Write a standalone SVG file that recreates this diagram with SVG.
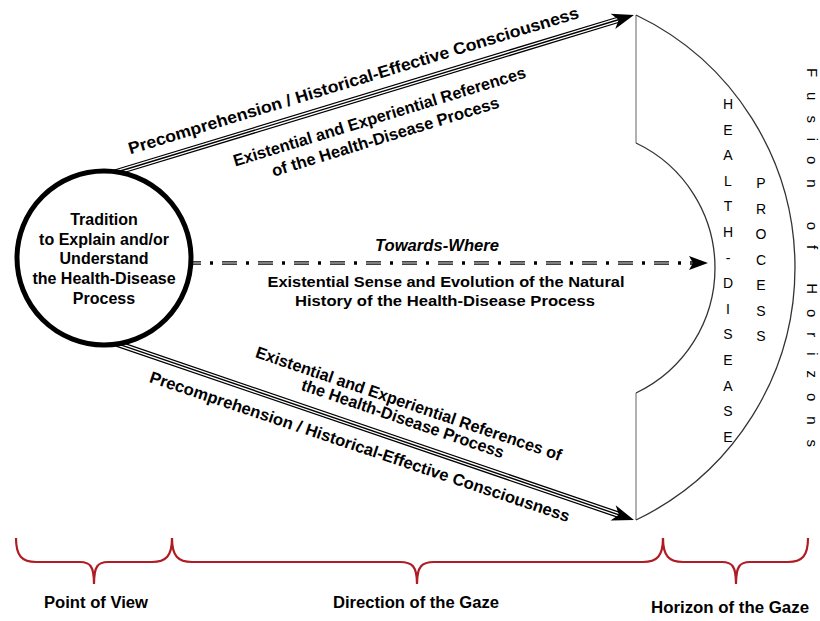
<svg xmlns="http://www.w3.org/2000/svg" width="820" height="621" viewBox="0 0 820 621">
<style>
text { font-family: "Liberation Sans", Arial, sans-serif; fill: #000; }
.nt { font-weight: bold; font-size: 16px; text-anchor: middle; }
.lbl { font-weight: bold; font-size: 16.5px; text-anchor: middle; }
.mid { font-weight: bold; font-size: 15px; text-anchor: middle; }
.it { font-style: italic; font-size: 16px; }
.vert { font-size: 14px; text-anchor: middle; }
.fus { font-size: 15px; }
.bot { font-weight: bold; font-size: 16px; text-anchor: middle; }
.t1 { stroke: #000; stroke-width: 6.5; fill: none; }
.t2 { stroke: #fff; stroke-width: 4; fill: none; }
.t3 { stroke: #000; stroke-width: 1.4; fill: none; }
.d1 { stroke: #000; stroke-width: 3.6; stroke-dasharray: 15 9 3 9; fill: none; }
.d2 { stroke: #fff; stroke-width: 1.2; stroke-dasharray: 15 21; fill: none; }
.brace { stroke: #B01C24; stroke-width: 2.2; fill: none; }
.arc { stroke: #333; stroke-width: 1.3; fill: none; }
.vl { stroke: #888; stroke-width: 1.3; fill: none; }
</style>
<defs>
<marker id="head" markerUnits="userSpaceOnUse" orient="auto" markerWidth="40" markerHeight="40" refX="0" refY="0" overflow="visible">
<path d="M12,0 L-10,-8 L-4,0 L-10,8 Z" fill="#000"/>
</marker>
<marker id="head2" markerUnits="userSpaceOnUse" orient="auto" markerWidth="40" markerHeight="40" refX="0" refY="0" overflow="visible">
<path d="M14,0 L-5,-7 L-1,0 L-5,7 Z" fill="#000"/>
</marker>
</defs>

<g id="connectors">
<g id="conn-upper">
<line class="t1" x1="112" y1="173.5" x2="622.5" y2="18.5"/>
<line class="t2" x1="112" y1="173.5" x2="622.5" y2="18.5"/>
<line class="t3" x1="112" y1="173.5" x2="622.5" y2="18.5" marker-end="url(#head)"/>
</g>
<g id="conn-lower">
<line class="t1" x1="113.3" y1="342.4" x2="622.6" y2="516.1"/>
<line class="t2" x1="113.3" y1="342.4" x2="622.6" y2="516.1"/>
<line class="t3" x1="113.3" y1="342.4" x2="622.6" y2="516.1" marker-end="url(#head)"/>
</g>
<g id="conn-middle">
<line class="d1" x1="186" y1="263" x2="694" y2="263"/>
<line class="d2" x1="186" y1="263" x2="694" y2="263"/>
<line x1="690" y1="263" x2="694" y2="263" stroke="#000" stroke-width="1" marker-end="url(#head2)"/>
</g>
</g>

<g id="tradition">
<circle cx="104" cy="258" r="87" fill="#fff" stroke="#000" stroke-width="5"/>
<text class="nt" x="104" y="225">Tradition</text>
<text class="nt" x="104" y="245">to Explain and/or</text>
<text class="nt" x="104" y="264">Understand</text>
<text class="nt" x="104" y="284">the Health-Disease</text>
<text class="nt" x="104" y="304">Process</text>
</g>

<g id="horizon">
<path class="vl" d="M636,15 L636,143 M636,393 L636,520"/>
<path class="arc" d="M636,15 A280,280 0 0,1 636,520"/>
<path class="arc" d="M636,143 A138.4,138.4 0 0,1 636,393"/>
<text class="vert">
<tspan x="728" y="109">H</tspan><tspan x="728" y="134.6">E</tspan><tspan x="728" y="160.2">A</tspan><tspan x="728" y="185.8">L</tspan><tspan x="728" y="211.4">T</tspan><tspan x="728" y="237">H</tspan><tspan x="728" y="262.6">-</tspan><tspan x="728" y="288.2">D</tspan><tspan x="728" y="313.8">I</tspan><tspan x="728" y="339.4">S</tspan><tspan x="728" y="365">E</tspan><tspan x="728" y="390.6">A</tspan><tspan x="728" y="416.2">S</tspan><tspan x="728" y="441.8">E</tspan>
</text>
<text class="vert">
<tspan x="761" y="188">P</tspan><tspan x="761" y="213.5">R</tspan><tspan x="761" y="239">O</tspan><tspan x="761" y="264.5">C</tspan><tspan x="761" y="290">E</tspan><tspan x="761" y="315.5">S</tspan><tspan x="761" y="341">S</tspan>
</text>
</g>

<g id="fusion">
<text class="fus" x="807" y="68" transform="rotate(90 807 68)" textLength="379" lengthAdjust="spacing">Fusion of Horizons</text>
</g>

<g id="labels">
<text class="lbl" transform="translate(355,86) rotate(-16.9)" x="0" y="0" textLength="470" lengthAdjust="spacingAndGlyphs">Precomprehension / Historical-Effective Consciousness</text>
<text class="lbl" transform="translate(381,122) rotate(-17)" x="0" y="0" textLength="305" lengthAdjust="spacingAndGlyphs">Existential and Experiential References</text>
<text class="lbl" transform="translate(387,142) rotate(-17)" x="0" y="0" textLength="237" lengthAdjust="spacingAndGlyphs">of the Health-Disease Process</text>
<text class="lbl" transform="translate(407,409) rotate(18.8)" x="0" y="0" textLength="322" lengthAdjust="spacingAndGlyphs">Existential and Experiential References of</text>
<text class="lbl" transform="translate(401,424) rotate(18.8)" x="0" y="0" textLength="213" lengthAdjust="spacingAndGlyphs">the Health-Disease Process</text>
<text class="lbl" transform="translate(358,452) rotate(18.5)" x="0" y="0" textLength="442" lengthAdjust="spacingAndGlyphs">Precomprehension / Historical-Effective Consciousness</text>
<text class="mid it" x="437" y="251" textLength="124" lengthAdjust="spacingAndGlyphs">Towards-Where</text>
<text class="mid" x="446" y="287" textLength="357" lengthAdjust="spacingAndGlyphs">Existential Sense and Evolution of the Natural</text>
<text class="mid" x="445" y="306" textLength="300" lengthAdjust="spacingAndGlyphs">History of the Health-Disease Process</text>
</g>

<g id="braces">
<path class="brace" d="M16,538 C16,556 22,562 36,562 L80,562 C90,562 94,566 94,584 C94,566 98,562 108,562 L152,562 C166,562 172,556 172,538"/>
<path class="brace" d="M172,538 C172,556 178,562 192,562 L400,562 C412,562 417,566 417,584 C417,566 422,562 434,562 L643,562 C657,562 663,556 663,538"/>
<path class="brace" d="M663,538 C663,556 669,562 683,562 L722,562 C732,562 736,566 736,584 C736,566 740,562 750,562 L788,562 C802,562 808,556 808,538"/>
<text class="bot" x="96" y="608" textLength="104" lengthAdjust="spacingAndGlyphs">Point of View</text>
<text class="bot" x="416" y="608" textLength="166" lengthAdjust="spacingAndGlyphs">Direction of the Gaze</text>
<text class="bot" x="730" y="613" textLength="158" lengthAdjust="spacingAndGlyphs">Horizon of the Gaze</text>
</g>
</svg>
